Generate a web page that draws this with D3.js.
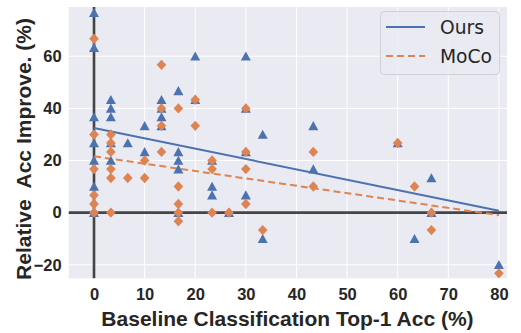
<!DOCTYPE html>
<html><head><meta charset="utf-8">
<script src="https://cdn.jsdelivr.net/npm/d3@7"></script>
<style>html,body{margin:0;padding:0;background:#fff;}svg{display:block;}</style>
</head><body>
<svg id="chart" width="521" height="333"></svg>
<script>
// ---- data ----
const xTicks = [0, 10, 20, 30, 40, 50, 60, 70, 80];
const yTicks = [-20, 0, 20, 40, 60];
const seriesNames = ["Ours", "MoCo"];
const oursX = [0,0,0,0,0,0,0, 3.33,3.33,3.33,3.33,3.33, 6.67, 10,10, 13.33,13.33,13.33,13.33,
  16.67,16.67,16.67,16.67,16.67, 20,20, 23.33,23.33,23.33, 26.67, 30,30,30,30, 33.33,33.33,
  43.33,43.33, 60, 63.33, 66.67,66.67, 80];
const oursY = [76.7,63.3,36.7,26.7,20,10,0, 43.3,40,36.7,26.7,20, 26.7, 33.3,23.3, 43.3,40,36.7,33.3,
  46.7,23.3,20,16.7,0, 60,43.3, 20,10,6.7, 0, 60,40,23.3,6.7, 30,-10,
  33.3,16.7, 26.7, -10, 13.3,0, -20];
const mocoX = [0,0,0,0,0,0, 3.33,3.33,3.33,3.33,3.33,3.33, 6.67, 10,10, 13.33,13.33,13.33,13.33,
  16.67,16.67,16.67,16.67,16.67, 20,20, 23.33,23.33,23.33, 26.67, 30,30,30,30, 33.33,
  43.33,43.33, 60, 63.33, 66.67,66.67, 80];
const mocoY = [66.7,30,16.7,6.7,3.3,0, 30,26.7,23.3,16.7,13.3,0, 13.3, 20,13.3, 56.7,40,33.3,23.3,
  40,10,3.3,0,-3.3, 43.3,33.3, 20,16.7,0, 0, 40,23.3,16.7,3.3, -6.7,
  23.3,10, 26.7, 10, 0,-6.7, -23.3];
const fitX = [0, 80];
const oursFit = [32.5, 0.7];
const mocoFit = [21.6, -1.0];

// ---- chart ----
const C_BLUE = "#4c72b0", C_ORANGE = "#dd8452", BG = "#eaeaf2", TXT = "#262626";
const svg = d3.select("#chart");
const L = 68.7, R = 507, T = 7, B = 278.3;
const x = d3.scaleLinear().domain([-5, 81.6]).range([L, R]);
const y = d3.scaleLinear().domain([-25.2, 78.9]).range([B, T]);

svg.append("rect").attr("x", L).attr("y", T).attr("width", R - L).attr("height", B - T).attr("fill", BG);

const grid = svg.append("g");
grid.selectAll("line.v").data(xTicks).join("line")
  .attr("x1", d => x(d)).attr("x2", d => x(d)).attr("y1", T).attr("y2", B)
  .attr("stroke", "#fff").attr("stroke-width", 1);
grid.selectAll("line.h").data(yTicks).join("line")
  .attr("y1", d => y(d)).attr("y2", d => y(d)).attr("x1", L).attr("x2", R)
  .attr("stroke", "#fff").attr("stroke-width", 1);

// zero axes
svg.append("line").attr("x1", x(0)).attr("x2", x(0)).attr("y1", T).attr("y2", B)
  .attr("stroke", "#333").attr("stroke-width", 2.6).attr("opacity", 0.9);
svg.append("line").attr("x1", L).attr("x2", R).attr("y1", y(0)).attr("y2", y(0))
  .attr("stroke", "#333").attr("stroke-width", 2.6).attr("opacity", 0.9);

// fit lines
const line = d3.line().x(d => x(d[0])).y(d => y(d[1]));
svg.append("path").attr("d", line(fitX.map((v, i) => [v, oursFit[i]])))
  .attr("fill", "none").attr("stroke", C_BLUE).attr("stroke-width", 2);
svg.append("path").attr("d", line(fitX.map((v, i) => [v, mocoFit[i]])))
  .attr("fill", "none").attr("stroke", C_ORANGE).attr("stroke-width", 2).attr("stroke-dasharray", "7,4");

// markers
const tri = (cx, cy) => `M${cx},${cy - 4.8}L${cx + 5},${cy + 4.3}L${cx - 5},${cy + 4.3}Z`;
const dia = (cx, cy) => `M${cx},${cy - 5.2}L${cx + 4.8},${cy}L${cx},${cy + 5.2}L${cx - 4.8},${cy}Z`;
svg.append("g").selectAll("path").data(oursX.map((v, i) => [v, oursY[i]])).join("path")
  .attr("d", d => tri(x(d[0]), y(d[1]))).attr("fill", C_BLUE);
svg.append("g").selectAll("path").data(mocoX.map((v, i) => [v, mocoY[i]])).join("path")
  .attr("d", d => dia(x(d[0]), y(d[1]))).attr("fill", C_ORANGE);

// axes labels
const xAxis = svg.append("g").attr("transform", `translate(0,${B})`)
  .call(d3.axisBottom(x).tickValues(xTicks).tickSize(0).tickPadding(10).tickFormat(d3.format("d")));
const yAxis = svg.append("g").attr("transform", `translate(${L},0)`)
  .call(d3.axisLeft(y).tickValues(yTicks).tickSize(0).tickPadding(7).tickFormat(d3.format("d")));
[xAxis, yAxis].forEach(a => {
  a.select(".domain").remove();
  a.selectAll("text").attr("font-family", "Liberation Sans, Arial, sans-serif")
    .attr("font-weight", "bold").attr("font-size", 16.5).attr("fill", TXT);
});

svg.append("text").attr("x", (97 + 478) / 2).attr("y", 326).attr("text-anchor", "middle")
  .attr("font-family", "Liberation Sans, Arial, sans-serif").attr("font-weight", "bold")
  .attr("font-size", 21).attr("fill", TXT).text("Baseline Classification Top-1 Acc (%)");
svg.append("text").attr("transform", "translate(31,149) rotate(-90)").attr("text-anchor", "middle")
  .attr("font-family", "Liberation Sans, Arial, sans-serif").attr("font-weight", "bold")
  .attr("font-size", 21).attr("fill", TXT).style("white-space", "pre").text("Relative  Acc Improve. (%)");

// legend
const lg = svg.append("g");
lg.append("rect").attr("x", 380.5).attr("y", 11.5).attr("width", 119).attr("height", 63).attr("rx", 4)
  .attr("fill", BG).attr("fill-opacity", 0.85).attr("stroke", "#d0d0d8").attr("stroke-width", 1);
const legY = [27, 56];
const legCol = [C_BLUE, C_ORANGE];
seriesNames.forEach((n, i) => {
  const l = lg.append("line").attr("x1", 386).attr("x2", 425).attr("y1", legY[i]).attr("y2", legY[i])
    .attr("stroke", legCol[i]).attr("stroke-width", 2);
  if (i === 1) l.attr("stroke-dasharray", "7,4");
  lg.append("text").attr("x", 440).attr("y", legY[i] + 7).attr("font-family", "DejaVu Sans, sans-serif")
    .attr("font-size", 18.7).attr("fill", TXT).text(n);
});
</script>
</body></html>
